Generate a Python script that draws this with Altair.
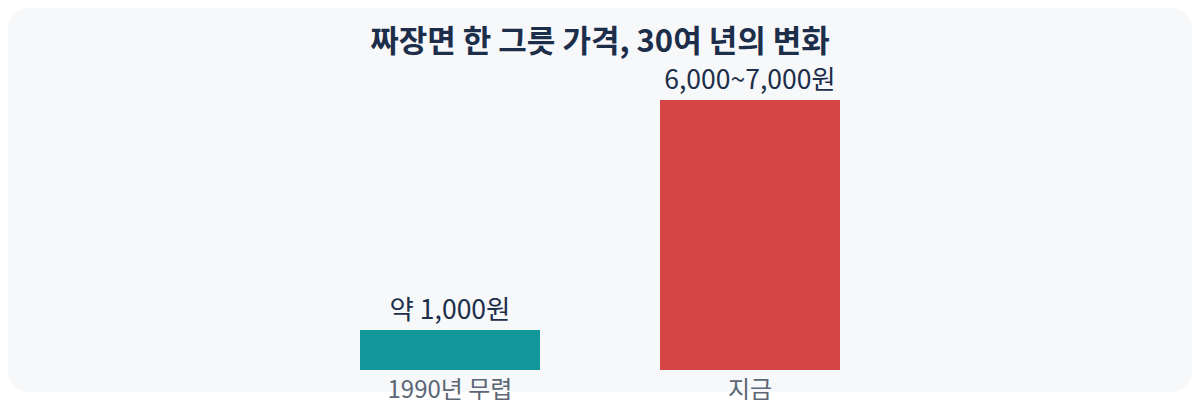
import altair as alt
import pandas as pd

categories = ["1990년 무렵", "지금"]
values = [1000, 6750]
value_labels = ["약 1,000원", "6,000~7,000원"]
colors = ["#11979a", "#d64545"]

title_text = "짜장면 한 그릇 가격, 30여 년의 변화"

df = pd.DataFrame({"period": categories, "value": values, "label": value_labels})

FONT = "Noto Sans CJK KR"

x = alt.X("period:N", sort=categories, axis=None,
          scale=alt.Scale(paddingInner=0.4, paddingOuter=0.2, range=[292, 892]))
yscale = alt.Scale(domain=[-550, 9050], nice=False, zero=False)

base = alt.Chart(df)

bars = base.mark_bar().encode(
    x=x,
    y=alt.Y("value:Q", axis=None, scale=yscale),
    y2=alt.datum(0),
    color=alt.Color("period:N", scale=alt.Scale(domain=categories, range=colors), legend=None),
)

vals = base.mark_text(font=FONT, fontSize=26.5, color="#1c2e4a", baseline="alphabetic", dy=-11).encode(
    x=x,
    y=alt.Y("value:Q", axis=None, scale=yscale),
    text="label:N",
)

cats = base.mark_text(font=FONT, fontSize=24, color="#5c6675", baseline="top", dy=9).encode(
    x=x,
    y=alt.datum(0),
    text="period:N",
)

chart = alt.layer(bars, vals, cats).properties(
    width=1184,
    height=384,
    padding=0,
    title=alt.TitleParams(
        text=title_text, font=FONT, fontSize=31, fontWeight="bold", color="#1c2e4a",
        anchor="middle", baseline="top", offset=-51,
    ),
).configure(background="white").configure_view(
    fill="#f7f8fa", strokeWidth=0, cornerRadius=20
)

chart.save("out.html", embed_options={"renderer": "svg", "actions": False})
